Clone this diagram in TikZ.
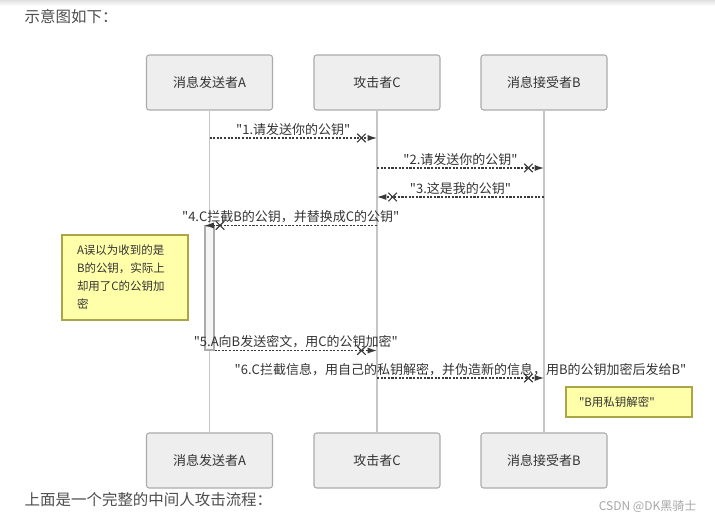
\documentclass[tikz,border=0pt]{standalone}
\usepackage{fontspec}
\setmainfont{Noto Sans CJK SC}
\usetikzlibrary{arrows.meta, positioning}
\definecolor{cbox}{HTML}{EEEEEE}
\definecolor{cboxline}{HTML}{ABABAB}
\definecolor{clife}{HTML}{C6C6C6}
\definecolor{cmsg}{HTML}{3A3A3A}
\definecolor{cnote}{HTML}{FFFFAA}
\definecolor{cnoteline}{HTML}{A9A548}
\definecolor{ctext}{HTML}{333333}
\definecolor{cpage}{HTML}{4D4D4D}
\newcommand{\qq}[1]{\textquotedbl#1\textquotedbl}
\tikzset{
  every picture/.style={font=\fontsize{9.75}{12}\selectfont, text=ctext},
  actor/.style={draw=cboxline, fill=cbox, rounded corners=2pt, line width=0.8pt,
    minimum width=94.5pt, minimum height=41.25pt, inner sep=0pt},
  life/.style={draw=clife, line width=0.9pt},
  activation/.style={draw=cboxline, fill=cbox!60, line width=0.8pt, inner sep=0pt,
    minimum width=6.75pt, minimum height=93pt},
  msg/.style={draw=cmsg, line width=0.8pt, dash pattern=on 1.6pt off 1.1pt,
    -{Rays[n=4,length=9pt,line width=0.9pt,sep=1.2pt] Latex[length=7pt,width=4.5pt]}},
  msglabel/.style={above=0.5pt, midway, inner sep=1pt},
  note/.style={draw=cnoteline, fill=cnote, line width=0.8pt, align=left,
    font=\fontsize{8.6}{13.5}\selectfont, inner ysep=0pt},
  page/.style={anchor=west, text=cpage, font=\fontsize{11.6}{13}\selectfont},
}

\begin{document}
\begin{tikzpicture}[x=0.75pt, y=-0.75pt]
  \useasboundingbox (0,0) rectangle (715,520);
  \shade[top color=black!12, bottom color=white, draw=none] (0,0) rectangle (715,6);
  \node[page] (head) at (20,17) {示意图如下：};
  \node[page] (foot) at (20,500) {上面是一个完整的中间人攻击流程：};
  \node[anchor=east, text=black!35, font=\fontsize{9}{11}\selectfont] (mark) at (701,507) {CSDN @DK黑骑士};
  % participants
  \node[actor] (aTop) at (209.5,82.5) {消息发送者A};
  \node[actor] (cTop) at (377,82.5) {攻击者C};
  \node[actor] (bTop) at (544,82.5) {消息接受者B};
  \node[actor] (aBot) at (209.5,460.5) {消息发送者A};
  \node[actor] (cBot) at (377,460.5) {攻击者C};
  \node[actor] (bBot) at (544,460.5) {消息接受者B};
  \foreach \p in {a, c, b} \draw[life] (\p Top) -- (\p Bot);
  \node[activation] (actA) at (209.5,288) {};
  % messages
  \coordinate (a1) at (aTop.south |- 0,138);
  \coordinate (c1) at (cTop.south |- 0,138);
  \coordinate (c2) at (cTop.south |- 0,168);
  \coordinate (b2) at (bTop.south |- 0,168);
  \coordinate (b3) at (bTop.south |- 0,197);
  \coordinate (c3) at (cTop.south |- 0,197);
  \coordinate (c4) at (cTop.south |- actA.north);
  \coordinate (c5) at (cTop.south |- actA.south);
  \coordinate (c6) at (cTop.south |- 0,378);
  \coordinate (b6) at (bTop.south |- 0,378);
  \draw[msg] (a1) -- (c1) node[msglabel] {\qq{1.请发送你的公钥}};
  \draw[msg] (c2) -- (b2) node[msglabel] {\qq{2.请发送你的公钥}};
  \draw[msg] (b3) -- (c3) node[msglabel] {\qq{3.这是我的公钥}};
  \draw[msg] (c4) -- (actA.north west) node[msglabel] {\qq{4.C拦截B的公钥，并替换成C的公钥}};
  \draw[msg] (actA.south east) -- (c5) node[msglabel] {\qq{5.A向B发送密文，用C的公钥加密}};
  \draw[msg] (c6) -- (b6) node[msglabel] {\qq{6.C拦截信息，用自己的私钥解密，并伪造新的信息，用B的公钥加密后发给B}};
  % notes
  \node[note, minimum width=94.5pt, minimum height=63.75pt, text width=72pt, inner xsep=11.25pt]
    (noteA) at (125,277.5) {A误以为收到的是\\B的公钥，实际上\\却用了C的公钥加\\密};
  \node[note, minimum width=94.5pt, minimum height=22.5pt, text width=75pt, inner xsep=9.75pt]
    (noteB) at (629,402) {\qq{B用私钥解密}};
\end{tikzpicture}
\end{document}
